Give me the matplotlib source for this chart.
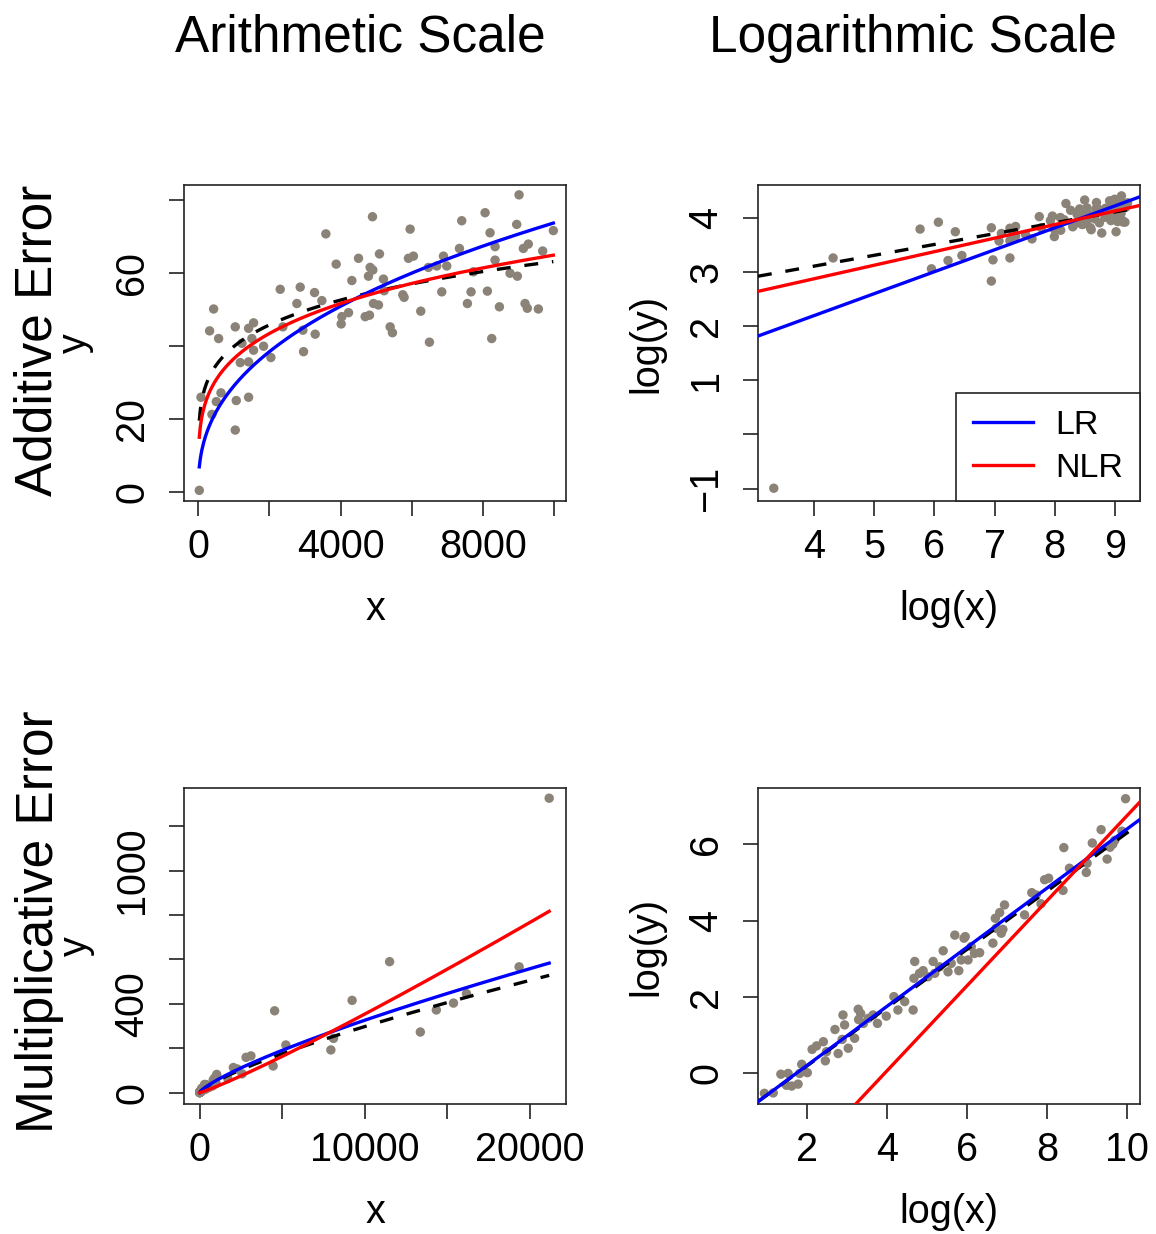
import numpy as np
import matplotlib
matplotlib.use("Agg")
import matplotlib.pyplot as plt

plt.rcParams['font.family'] = ['Liberation Sans', 'DejaVu Sans']
plt.rcParams['lines.scale_dashes'] = False

# additive error data
x_add = [28, 75, 384, 318, 431, 571, 506, 637, 1039, 1067, 1039, 1414, 1227, 1180,
         1414, 1414, 1554, 1507, 1554, 1835, 2041, 2303, 2378, 2771, 2865, 2940,
         2959, 3268, 3286, 3474, 3586, 3876, 4035, 4017, 4223, 4317, 4504, 4691,
         4813, 4831, 4784, 4906, 4897, 5093, 4925, 5065, 5205, 5224, 5393, 5458,
         5749, 5786, 5955, 5908, 6048, 6254, 6470, 6498, 6704, 6845, 6892, 6985,
         7341, 7406, 7565, 7668, 7734, 8062, 8202, 8127, 8249, 8343, 8343, 8465,
         8764, 8951, 8970, 9017, 9138, 9278, 9185, 9250, 9560, 9681, 9981]
y_add = [0.37, 25.9, 21.2, 44.1, 50.1, 42.0, 24.7, 27.1, 45.2, 25.0, 16.9, 25.9, 40.7, 35.4,
         35.6, 44.8, 46.3, 42.0, 38.8, 39.9, 36.8, 55.5, 45.2, 51.6, 56.1, 44.3,
         38.4, 54.6, 43.2, 52.4, 70.7, 62.4, 48.0, 46.0, 49.1, 57.9, 64.0, 48.0,
         48.4, 61.5, 59.1, 60.8, 75.4, 65.2, 51.6, 51.2, 58.3, 55.1, 45.2, 43.6,
         54.0, 53.3, 72.0, 64.0, 64.6, 49.5, 61.5, 41.0, 61.9, 54.8, 64.6, 61.9,
         66.7, 74.3, 51.6, 54.8, 60.3, 76.5, 71.0, 55.0, 42.0, 67.2, 63.5, 50.7,
         59.9, 73.3, 59.1, 81.4, 66.7, 67.9, 51.6, 50.3, 50.1, 66.0, 71.6]

# multiplicative error data (natural logs)
lx_mult = [0.95, 1.17, 1.36, 1.50, 1.54, 1.63, 1.79, 1.83, 1.88, 2.02, 2.14, 2.25, 2.42,
           2.47, 2.50, 2.71, 2.79, 2.89, 2.91, 2.95, 3.04, 3.20, 3.29, 3.30, 3.35, 3.42,
           3.54, 3.66, 3.77, 3.99, 4.18, 4.28, 4.45, 4.66, 4.68, 4.70, 4.82, 4.91, 5.03,
           5.16, 5.20, 5.32, 5.41, 5.53, 5.61, 5.70, 5.80, 5.86, 5.93, 5.96, 6.03, 6.11,
           6.19, 6.32, 6.65, 6.71, 6.73, 6.82, 6.86, 6.90, 6.94, 7.44, 7.62, 7.73, 7.85,
           7.94, 8.04, 8.40, 8.42, 8.56, 8.98, 9.00, 9.13, 9.35, 9.50, 9.57, 9.64, 9.69,
           9.87, 9.96]
ly_mult = [-0.52, -0.51, -0.02, -0.31, 0.0, -0.33, -0.28, 0.0, 0.24, 0.02, 0.63, 0.72, 0.83,
           0.33, 0.57, 1.15, 0.52, 0.89, 1.53, 1.27, 0.66, 0.92, 1.68, 1.41, 1.57, 1.31,
           1.44, 1.53, 1.31, 1.50, 2.01, 1.66, 1.88, 1.66, 2.49, 2.93, 2.62, 2.69, 2.53,
           2.93, 2.62, 2.79, 3.21, 2.66, 2.88, 3.62, 2.69, 2.97, 3.54, 3.58, 2.97, 3.32,
           3.14, 3.16, 3.41, 4.06, 3.80, 4.21, 3.67, 3.77, 4.41, 4.15, 4.73, 4.67, 4.44,
           5.07, 5.11, 4.79, 5.91, 5.37, 5.26, 5.50, 6.03, 6.38, 5.61, 5.92, 6.00, 6.10,
           6.34, 7.19]

# fitted lines: (intercept, slope) of log(y) = a + b*log(x)
true_add, lr_add, nlr_add = (2.303, 0.20), (0.57, 0.405), (1.87, 0.25)
true_mult, lr_mult, nlr_mult = (-1.34, 0.764), (-1.35, 0.775), (-4.40, 1.115)

PT_COL = '#8B8378'
DASH = (10, 10)
LW = 2.4
PT_S = 46
FS_TICK, FS_BIG, FS_LEG = 28.5, 37, 24.5

fig = plt.figure(figsize=(11.56, 12.34), dpi=100)
W, H = 1156.0, 1234.0

def axes_px(x0, y0, x1, y1):
    return fig.add_axes([x0 / W, 1 - y1 / H, (x1 - x0) / W, (y1 - y0) / H])

def style(ax, xt, xl, yt, yl, xlab, ylab, ylab_x):
    for s in ax.spines.values():
        s.set_linewidth(1.2)
        s.set_color('#222222')
    ax.set_xticks(xt)
    ax.set_xticklabels(xl, fontsize=FS_TICK)
    ax.set_yticks(yt)
    ax.set_yticklabels(yl, fontsize=FS_TICK, rotation=90, va='center')
    ax.tick_params(axis='both', direction='out', length=11, width=1.2, color='#222222')
    ax.tick_params(axis='x', pad=8.5)
    ax.tick_params(axis='y', pad=12.5)
    ax.set_xlabel(xlab, fontsize=FS_TICK)
    ax.set_ylabel(ylab, fontsize=FS_TICK)
    ax.xaxis.label.set_va('baseline')
    ax.xaxis.set_label_coords(0.5, -0.377)
    ax.yaxis.label.set_va('baseline')
    ax.yaxis.set_label_coords(ylab_x, 0.5)

def arith(ax, x, y, fits):
    x = np.asarray(x, float)
    ax.scatter(x, y, s=PT_S, color=PT_COL, edgecolors='none', zorder=2)
    xx = np.linspace(x.min(), x.max(), 400)
    t, lr, nl = fits
    ax.plot(xx, np.exp(t[0]) * xx ** t[1], color='black', lw=LW, dashes=DASH, zorder=3)
    ax.plot(xx, np.exp(lr[0]) * xx ** lr[1], color='blue', lw=LW, zorder=4)
    ax.plot(xx, np.exp(nl[0]) * xx ** nl[1], color='red', lw=LW, zorder=5)

def logp(ax, lx, ly, fits):
    ax.scatter(lx, ly, s=PT_S, color=PT_COL, edgecolors='none', zorder=2)
    t, lr, nl = fits
    ax.axline((0, t[0]), slope=t[1], color='black', lw=LW, dashes=DASH, zorder=3)
    l1 = ax.axline((0, lr[0]), slope=lr[1], color='blue', lw=LW, zorder=4, label='LR')
    l2 = ax.axline((0, nl[0]), slope=nl[1], color='red', lw=LW, zorder=5, label='NLR')
    return l1, l2

# top left: additive, arithmetic
ax1 = axes_px(184, 185, 566, 501)
arith(ax1, x_add, y_add, (true_add, lr_add, nlr_add))
ax1.set_xlim(-402, 10337)
ax1.set_ylim(-2.55, 84.1)
style(ax1, [0, 2000, 4000, 6000, 8000, 10000], ['0', '', '4000', '', '8000', ''],
      [0, 20, 40, 60, 80], ['0', '20', '', '60', ''], 'x', 'y', -0.257)

# top right: additive, log
ax2 = axes_px(758, 185, 1140, 501)
l1, l2 = logp(ax2, np.log(x_add), np.log(y_add), (true_add, lr_add, nlr_add))
ax2.set_xlim(3.07, 9.415)
ax2.set_ylim(-1.23, 4.60)
style(ax2, [4, 5, 6, 7, 8, 9], ['4', '5', '6', '7', '8', '9'],
      [-1, 0, 1, 2, 3, 4], ['\u22121', '', '1', '2', '3', '4'], 'log(x)', 'log(y)', -0.264)
leg = ax2.legend(handles=[l1, l2], loc='lower right', fontsize=FS_LEG, frameon=True,
                 fancybox=False, edgecolor='#222222', framealpha=1, borderaxespad=0,
                 handlelength=1.75, handletextpad=0.65, borderpad=0.5, labelspacing=0.35)
leg.get_frame().set_linewidth(1.2)

# bottom left: multiplicative, arithmetic
ax3 = axes_px(184, 788, 566, 1104)
arith(ax3, np.exp(lx_mult), np.exp(ly_mult), (true_mult, lr_mult, nlr_mult))
ax3.set_xlim(-950, 22180)
ax3.set_ylim(-51, 1372)
style(ax3, [0, 5000, 10000, 15000, 20000], ['0', '', '10000', '', '20000'],
      [0, 200, 400, 600, 800, 1000, 1200], ['0', '', '400', '', '', '1000', ''],
      'x', 'y', -0.254)

# bottom right: multiplicative, log
ax4 = axes_px(758, 788, 1140, 1104)
logp(ax4, lx_mult, ly_mult, (true_mult, lr_mult, nlr_mult))
ax4.set_xlim(0.79, 10.32)
ax4.set_ylim(-0.80, 7.47)
style(ax4, [2, 4, 6, 8, 10], ['2', '4', '6', '8', '10'],
      [0, 2, 4, 6], ['0', '2', '4', '6'], 'log(x)', 'log(y)', -0.264)

# column titles and row labels
fig.text(360 / W, 1 - 52 / H, 'Arithmetic Scale', fontsize=FS_BIG, ha='center', va='baseline')
fig.text(913 / W, 1 - 52 / H, 'Logarithmic Scale', fontsize=FS_BIG, ha='center', va='baseline')
fig.text(52 / W, 1 - 340 / H, 'Additive Error', fontsize=FS_BIG, rotation=90,
         rotation_mode='anchor', ha='center', va='baseline')
fig.text(53 / W, 1 - 922 / H, 'Multiplicative Error', fontsize=FS_BIG, rotation=90,
         rotation_mode='anchor', ha='center', va='baseline')

fig.savefig('out.png', dpi=100)
